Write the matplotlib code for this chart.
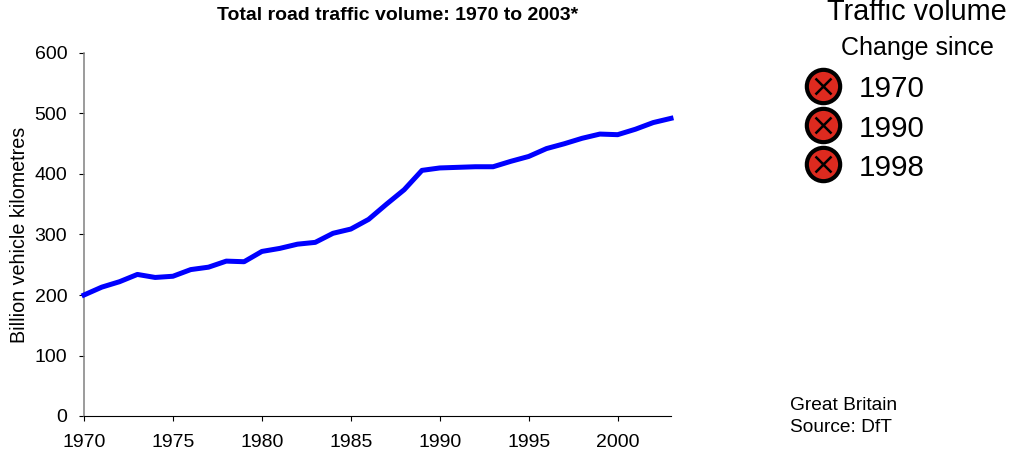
import matplotlib
matplotlib.use('Agg')
import matplotlib.pyplot as plt

plt.rcParams['font.family'] = ['Liberation Sans', 'DejaVu Sans']

years = list(range(1970, 2004))
traffic = [200, 213, 222, 234, 229, 231, 242, 246, 256, 255, 272, 277, 284, 287, 302, 309, 325,
           350, 374, 406, 410, 411, 412, 412, 421, 429, 442, 450, 459, 466, 465, 474, 485, 492]
tick_years = [1970, 1975, 1980, 1985, 1990, 1995, 2000]
y_ticks = [0, 100, 200, 300, 400, 500, 600]
legend_years = ['1970', '1990', '1998']

W, H = 1013, 453
fig = plt.figure(figsize=(W / 100, H / 100), dpi=100)
ax = fig.add_axes([84 / W, 1 - 416 / H, (671 - 84) / W, (416 - 53) / H])
ax.plot(years, traffic, color='#0000ff', lw=3.6, solid_joinstyle='round', clip_on=False, zorder=5)
ax.set_xlim(1970, 2003)
ax.set_ylim(0, 600)
ax.set_xticks(tick_years)
ax.set_yticks(y_ticks)
ax.tick_params(labelsize=14, length=3.6, width=0.8)
ax.tick_params(axis='x', pad=9.5)
ax.tick_params(axis='y', pad=8.5)
ax.spines['top'].set_visible(False)
ax.spines['right'].set_visible(False)
ax.spines['left'].set_color('#808080')
ax.spines['left'].set_linewidth(1.1)
ax.set_ylabel('Billion vehicle kilometres', fontsize=14.2)
ax.yaxis.set_label_coords(-0.094, 0.5)

fig.text(398 / W, 1 - 14 / H, 'Total road traffic volume: 1970 to 2003*', fontsize=14, fontweight='bold',
         ha='center', va='center_baseline')
fig.text(917 / W, 1 - 20.5 / H, 'Traffic volume', fontsize=20.8, ha='center', va='baseline')
fig.text(917 / W, 1 - 55 / H, 'Change since', fontsize=18, ha='center', va='baseline')

# overlay axes in pixel coords for the legend symbols
ov = fig.add_axes([0, 0, 1, 1])
ov.set_xlim(0, W)
ov.set_ylim(H, 0)
ov.axis('off')
for label, yp, yb in zip(legend_years, [86, 125, 164], [97, 137, 176]):
    ov.plot([823], [yp], 'o', ms=24, mfc='#dd2a1f', mec='black', mew=3)
    ov.plot([823], [yp], 'x', ms=12, color='black', mew=1.8)
    ov.text(859, yb, label, fontsize=21.3, va='baseline', ha='left')

fig.text(790 / W, 1 - 410 / H, 'Great Britain', fontsize=13.8, va='baseline')
fig.text(790 / W, 1 - 432 / H, 'Source: DfT', fontsize=13.8, va='baseline')

fig.savefig('out.png', dpi=100)
